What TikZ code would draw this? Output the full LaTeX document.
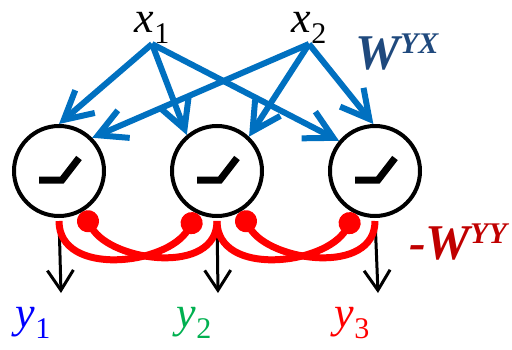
\documentclass[tikz,border=0pt]{standalone}
\usepackage{fontspec}
\setmainfont{Liberation Serif}
\newfontfamily\timesfont{Liberation Serif}
\usetikzlibrary{
  arrows.meta,
  positioning,
  calc
}
\usepackage{xcolor}
\definecolor{wireBlue}{RGB}{0,112,192}
\definecolor{wireLabel}{RGB}{31,73,125}
\definecolor{inhRed}{RGB}{255,0,0}
\definecolor{inhLabel}{RGB}{192,0,0}
\definecolor{yBlue}{RGB}{0,0,255}
\definecolor{yGreen}{RGB}{0,176,80}
\newcommand{\ioLabel}[2]{{\itshape #1}\raisebox{-11pt}{\fontsize{30}{30}\selectfont\upshape #2}}
\newcommand{\wLabel}[2]{{\bfseries\itshape #1W}\raisebox{16pt}{\fontsize{30}{30}\selectfont\bfseries\itshape #2}}
\newcommand{\reluNode}[2]{\node[neuron] (#1) at (#2) {};
  \draw[ramp] ($(#1.center)+(-20,-9)$) -- ++(23,0) -- ++(17,22);}
\newcommand{\reluEA}[2]{\node[neuron, right=of #1] (#2) {};
  \draw[ramp] ($(#2.center)+(-20,-9)$) -- ++(23,0) -- ++(17,22);}
\tikzset{
  neuron/.style={
    circle,
    draw,
    line width=4pt,
    inner sep=0pt,
    minimum size=90pt
  },
  ramp/.style={line width=7pt},
  wire/.style={
    color=wireBlue,
    line width=6pt,
    -{Straight Barb[length=28pt,width=30pt]}
  },
  inhib/.style={
    color=inhRed,
    line width=7pt,
    shorten <=3pt,
    -{Circle[length=22pt]}
  },
  readout/.style={
    color=black,
    line width=3pt,
    shorten <=4pt,
    -{Straight Barb[length=20pt,width=26pt]}
  },
  inlabel/.style={inner sep=0pt, font=\timesfont\fontsize{44}{44}\selectfont},
  wlabel/.style={inner sep=0pt, font=\timesfont\fontsize{50}{50}\selectfont}
}

\begin{document}
\begin{tikzpicture}[
    x=1pt, y=1pt,
    node distance=64pt
  ]
  \useasboundingbox (0,0) rectangle (512,349);
  \reluNode{n1}{59,178}
  \reluEA{n1}{n2}
  \reluEA{n2}{n3}

  \node[inlabel, anchor=south] (x1) at (152,305) {\ioLabel{x}{1}};
  \node[inlabel, anchor=south] (x2) at (309,305) {\ioLabel{x}{2}};
  \node[wlabel, text=wireLabel] (wyx) at (397,297) {\wLabel{}{YX}};
  \node[wlabel, text=inhLabel] (wyy) at (458,107) {\wLabel{-}{YY}};

  \node[inlabel, text=yBlue]  (y1) at (33,26)  {\ioLabel{y}{1}};
  \node[inlabel, text=yGreen] (y2) at (194,26) {\ioLabel{y}{2}};
  \node[inlabel, text=inhRed] (y3) at (352,26) {\ioLabel{y}{3}};

  \coordinate (o1) at ($(n1.south)+(2,-75)$);
  \coordinate (o2) at ($(n2.south)+(1,-75)$);
  \coordinate (o3) at ($(n3.south)+(3,-75)$);

  \path[wire]
  (x1.south) edge (n1.north)
             edge (n2.130)
             edge (n3.140)
  (x2.south) edge (n1.45)
             edge (n2.47)
             edge (n3.92)
  ;
  \path[readout]
  (n1.south) edge (o1)
  (n2.south) edge (o2)
  (n3.south) edge (o3)
  ;
  \path[inhib]
  (n1.south) edge [out=-90, in=240, looseness=1.1] (n2.245)
  (n2.south) edge [out=-90, in=-60, looseness=1.1] (n1.300)
  (n2.south) edge [out=-90, in=240, looseness=1.1] (n3.245)
  (n3.south) edge [out=-90, in=-60, looseness=1.1] (n2.300)
  ;
\end{tikzpicture}
\end{document}
